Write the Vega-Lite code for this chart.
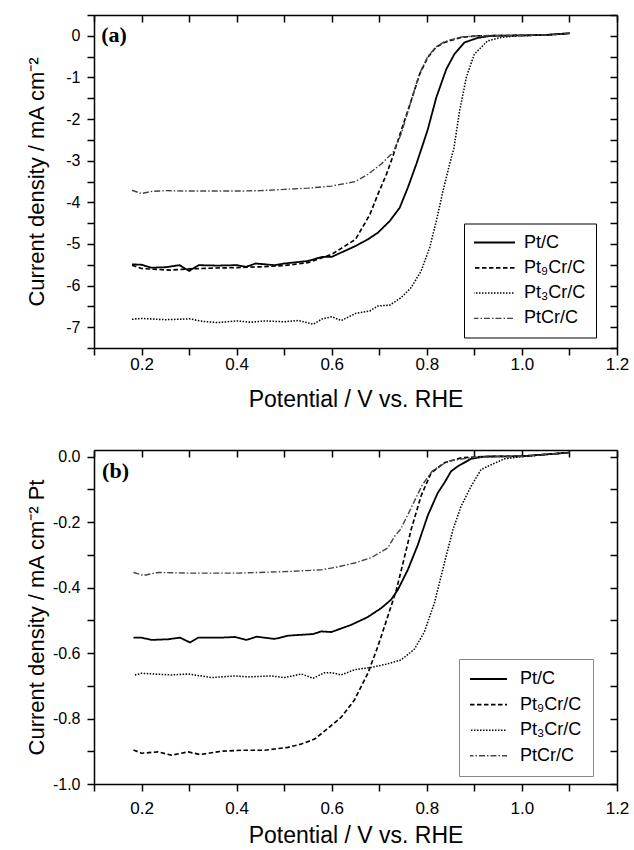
{
 "$schema": "https://vega.github.io/schema/vega-lite/v6.json",
 "padding": {"left": 25, "top": 7, "right": 0, "bottom": 0},
 "autosize": {"type": "pad"},
 "background": "white",
 "config": {
  "font": "Liberation Sans",
  "view": {"stroke": null},
  "axis": {"grid": false, "domainColor": "black", "domainWidth": 1.5, "tickColor": "black", "tickWidth": 1.5, "tickSize": 7, "labelColor": "black", "titleColor": "black", "labelFont": "Liberation Sans", "titleFont": "Liberation Sans", "titleFontWeight": "normal", "labelOverlap": false, "labelFlush": false}
 },
 "datasets": {
  "curves": [
   {"p":"a","s":"Pt/C","V":0.18,"J":-5.49},{"p":"a","s":"Pt/C","V":0.2,"J":-5.5},{"p":"a","s":"Pt/C","V":0.22,"J":-5.57},{"p":"a","s":"Pt/C","V":0.25,"J":-5.56},{"p":"a","s":"Pt/C","V":0.28,"J":-5.51},{"p":"a","s":"Pt/C","V":0.3,"J":-5.65},{"p":"a","s":"Pt/C","V":0.32,"J":-5.51},{"p":"a","s":"Pt/C","V":0.36,"J":-5.52},{"p":"a","s":"Pt/C","V":0.4,"J":-5.51},{"p":"a","s":"Pt/C","V":0.42,"J":-5.55},{"p":"a","s":"Pt/C","V":0.44,"J":-5.47},{"p":"a","s":"Pt/C","V":0.48,"J":-5.51},{"p":"a","s":"Pt/C","V":0.5,"J":-5.47},{"p":"a","s":"Pt/C","V":0.55,"J":-5.41},{"p":"a","s":"Pt/C","V":0.58,"J":-5.31},{"p":"a","s":"Pt/C","V":0.6,"J":-5.31},{"p":"a","s":"Pt/C","V":0.65,"J":-5.05},{"p":"a","s":"Pt/C","V":0.676,"J":-4.89},{"p":"a","s":"Pt/C","V":0.697,"J":-4.73},{"p":"a","s":"Pt/C","V":0.722,"J":-4.45},{"p":"a","s":"Pt/C","V":0.743,"J":-4.13},{"p":"a","s":"Pt/C","V":0.76,"J":-3.65},{"p":"a","s":"Pt/C","V":0.778,"J":-3.08},{"p":"a","s":"Pt/C","V":0.792,"J":-2.6},{"p":"a","s":"Pt/C","V":0.802,"J":-2.25},{"p":"a","s":"Pt/C","V":0.82,"J":-1.48},{"p":"a","s":"Pt/C","V":0.841,"J":-0.8},{"p":"a","s":"Pt/C","V":0.858,"J":-0.44},{"p":"a","s":"Pt/C","V":0.879,"J":-0.16},{"p":"a","s":"Pt/C","V":0.907,"J":-0.05},{"p":"a","s":"Pt/C","V":0.935,"J":0},{"p":"a","s":"Pt/C","V":1.0,"J":0.01},{"p":"a","s":"Pt/C","V":1.05,"J":0.02},{"p":"a","s":"Pt/C","V":1.1,"J":0.06},
   {"p":"a","s":"Pt₉Cr/C","V":0.18,"J":-5.51},{"p":"a","s":"Pt₉Cr/C","V":0.2,"J":-5.59},{"p":"a","s":"Pt₉Cr/C","V":0.26,"J":-5.63},{"p":"a","s":"Pt₉Cr/C","V":0.3,"J":-5.6},{"p":"a","s":"Pt₉Cr/C","V":0.35,"J":-5.58},{"p":"a","s":"Pt₉Cr/C","V":0.4,"J":-5.57},{"p":"a","s":"Pt₉Cr/C","V":0.45,"J":-5.55},{"p":"a","s":"Pt₉Cr/C","V":0.5,"J":-5.52},{"p":"a","s":"Pt₉Cr/C","V":0.55,"J":-5.45},{"p":"a","s":"Pt₉Cr/C","V":0.6,"J":-5.25},{"p":"a","s":"Pt₉Cr/C","V":0.65,"J":-4.89},{"p":"a","s":"Pt₉Cr/C","V":0.68,"J":-4.3},{"p":"a","s":"Pt₉Cr/C","V":0.697,"J":-3.81},{"p":"a","s":"Pt₉Cr/C","V":0.715,"J":-3.33},{"p":"a","s":"Pt₉Cr/C","V":0.729,"J":-2.88},{"p":"a","s":"Pt₉Cr/C","V":0.746,"J":-2.28},{"p":"a","s":"Pt₉Cr/C","V":0.767,"J":-1.56},{"p":"a","s":"Pt₉Cr/C","V":0.785,"J":-0.92},{"p":"a","s":"Pt₉Cr/C","V":0.802,"J":-0.52},{"p":"a","s":"Pt₉Cr/C","V":0.819,"J":-0.28},{"p":"a","s":"Pt₉Cr/C","V":0.837,"J":-0.16},{"p":"a","s":"Pt₉Cr/C","V":0.872,"J":-0.04},{"p":"a","s":"Pt₉Cr/C","V":0.907,"J":0},{"p":"a","s":"Pt₉Cr/C","V":1.0,"J":0.01},{"p":"a","s":"Pt₉Cr/C","V":1.05,"J":0.02},{"p":"a","s":"Pt₉Cr/C","V":1.1,"J":0.06},
   {"p":"a","s":"Pt₃Cr/C","V":0.18,"J":-6.81},{"p":"a","s":"Pt₃Cr/C","V":0.2,"J":-6.79},{"p":"a","s":"Pt₃Cr/C","V":0.25,"J":-6.82},{"p":"a","s":"Pt₃Cr/C","V":0.3,"J":-6.8},{"p":"a","s":"Pt₃Cr/C","V":0.33,"J":-6.86},{"p":"a","s":"Pt₃Cr/C","V":0.36,"J":-6.89},{"p":"a","s":"Pt₃Cr/C","V":0.4,"J":-6.85},{"p":"a","s":"Pt₃Cr/C","V":0.43,"J":-6.88},{"p":"a","s":"Pt₃Cr/C","V":0.46,"J":-6.85},{"p":"a","s":"Pt₃Cr/C","V":0.5,"J":-6.87},{"p":"a","s":"Pt₃Cr/C","V":0.53,"J":-6.84},{"p":"a","s":"Pt₃Cr/C","V":0.561,"J":-6.93},{"p":"a","s":"Pt₃Cr/C","V":0.58,"J":-6.8},{"p":"a","s":"Pt₃Cr/C","V":0.6,"J":-6.75},{"p":"a","s":"Pt₃Cr/C","V":0.62,"J":-6.84},{"p":"a","s":"Pt₃Cr/C","V":0.65,"J":-6.67},{"p":"a","s":"Pt₃Cr/C","V":0.68,"J":-6.61},{"p":"a","s":"Pt₃Cr/C","V":0.697,"J":-6.49},{"p":"a","s":"Pt₃Cr/C","V":0.722,"J":-6.47},{"p":"a","s":"Pt₃Cr/C","V":0.746,"J":-6.29},{"p":"a","s":"Pt₃Cr/C","V":0.767,"J":-6.05},{"p":"a","s":"Pt₃Cr/C","V":0.788,"J":-5.65},{"p":"a","s":"Pt₃Cr/C","V":0.806,"J":-5.09},{"p":"a","s":"Pt₃Cr/C","V":0.82,"J":-4.45},{"p":"a","s":"Pt₃Cr/C","V":0.834,"J":-3.73},{"p":"a","s":"Pt₃Cr/C","V":0.848,"J":-3.08},{"p":"a","s":"Pt₃Cr/C","V":0.857,"J":-2.7},{"p":"a","s":"Pt₃Cr/C","V":0.869,"J":-1.8},{"p":"a","s":"Pt₃Cr/C","V":0.883,"J":-1.0},{"p":"a","s":"Pt₃Cr/C","V":0.9,"J":-0.44},{"p":"a","s":"Pt₃Cr/C","V":0.928,"J":-0.12},{"p":"a","s":"Pt₃Cr/C","V":0.956,"J":-0.04},{"p":"a","s":"Pt₃Cr/C","V":0.99,"J":0},{"p":"a","s":"Pt₃Cr/C","V":1.05,"J":0.02},{"p":"a","s":"Pt₃Cr/C","V":1.1,"J":0.06},
   {"p":"a","s":"PtCr/C","V":0.18,"J":-3.71},{"p":"a","s":"PtCr/C","V":0.2,"J":-3.79},{"p":"a","s":"PtCr/C","V":0.22,"J":-3.74},{"p":"a","s":"PtCr/C","V":0.25,"J":-3.72},{"p":"a","s":"PtCr/C","V":0.3,"J":-3.73},{"p":"a","s":"PtCr/C","V":0.35,"J":-3.73},{"p":"a","s":"PtCr/C","V":0.4,"J":-3.73},{"p":"a","s":"PtCr/C","V":0.45,"J":-3.72},{"p":"a","s":"PtCr/C","V":0.5,"J":-3.69},{"p":"a","s":"PtCr/C","V":0.55,"J":-3.66},{"p":"a","s":"PtCr/C","V":0.6,"J":-3.61},{"p":"a","s":"PtCr/C","V":0.65,"J":-3.5},{"p":"a","s":"PtCr/C","V":0.676,"J":-3.33},{"p":"a","s":"PtCr/C","V":0.704,"J":-3.08},{"p":"a","s":"PtCr/C","V":0.729,"J":-2.8},{"p":"a","s":"PtCr/C","V":0.746,"J":-2.36},{"p":"a","s":"PtCr/C","V":0.767,"J":-1.56},{"p":"a","s":"PtCr/C","V":0.785,"J":-0.9},{"p":"a","s":"PtCr/C","V":0.802,"J":-0.5},{"p":"a","s":"PtCr/C","V":0.819,"J":-0.27},{"p":"a","s":"PtCr/C","V":0.837,"J":-0.14},{"p":"a","s":"PtCr/C","V":0.872,"J":-0.03},{"p":"a","s":"PtCr/C","V":0.907,"J":0},{"p":"a","s":"PtCr/C","V":1.0,"J":0.01},{"p":"a","s":"PtCr/C","V":1.05,"J":0.02},{"p":"a","s":"PtCr/C","V":1.1,"J":0.06},
   {"p":"b","s":"Pt/C","V":0.183,"J":-0.553},{"p":"b","s":"Pt/C","V":0.2,"J":-0.553},{"p":"b","s":"Pt/C","V":0.221,"J":-0.56},{"p":"b","s":"Pt/C","V":0.256,"J":-0.558},{"p":"b","s":"Pt/C","V":0.281,"J":-0.553},{"p":"b","s":"Pt/C","V":0.302,"J":-0.568},{"p":"b","s":"Pt/C","V":0.319,"J":-0.553},{"p":"b","s":"Pt/C","V":0.368,"J":-0.553},{"p":"b","s":"Pt/C","V":0.396,"J":-0.551},{"p":"b","s":"Pt/C","V":0.421,"J":-0.56},{"p":"b","s":"Pt/C","V":0.442,"J":-0.55},{"p":"b","s":"Pt/C","V":0.48,"J":-0.557},{"p":"b","s":"Pt/C","V":0.508,"J":-0.547},{"p":"b","s":"Pt/C","V":0.561,"J":-0.542},{"p":"b","s":"Pt/C","V":0.578,"J":-0.534},{"p":"b","s":"Pt/C","V":0.599,"J":-0.536},{"p":"b","s":"Pt/C","V":0.641,"J":-0.514},{"p":"b","s":"Pt/C","V":0.676,"J":-0.49},{"p":"b","s":"Pt/C","V":0.704,"J":-0.463},{"p":"b","s":"Pt/C","V":0.725,"J":-0.437},{"p":"b","s":"Pt/C","V":0.739,"J":-0.407},{"p":"b","s":"Pt/C","V":0.76,"J":-0.346},{"p":"b","s":"Pt/C","V":0.781,"J":-0.27},{"p":"b","s":"Pt/C","V":0.802,"J":-0.18},{"p":"b","s":"Pt/C","V":0.823,"J":-0.111},{"p":"b","s":"Pt/C","V":0.837,"J":-0.08},{"p":"b","s":"Pt/C","V":0.851,"J":-0.045},{"p":"b","s":"Pt/C","V":0.865,"J":-0.03},{"p":"b","s":"Pt/C","V":0.893,"J":-0.007},{"p":"b","s":"Pt/C","V":0.921,"J":0},{"p":"b","s":"Pt/C","V":1.0,"J":0.001},{"p":"b","s":"Pt/C","V":1.1,"J":0.012},
   {"p":"b","s":"Pt₉Cr/C","V":0.183,"J":-0.896},{"p":"b","s":"Pt₉Cr/C","V":0.2,"J":-0.906},{"p":"b","s":"Pt₉Cr/C","V":0.235,"J":-0.902},{"p":"b","s":"Pt₉Cr/C","V":0.263,"J":-0.912},{"p":"b","s":"Pt₉Cr/C","V":0.298,"J":-0.902},{"p":"b","s":"Pt₉Cr/C","V":0.323,"J":-0.91},{"p":"b","s":"Pt₉Cr/C","V":0.368,"J":-0.9},{"p":"b","s":"Pt₉Cr/C","V":0.41,"J":-0.897},{"p":"b","s":"Pt₉Cr/C","V":0.459,"J":-0.897},{"p":"b","s":"Pt₉Cr/C","V":0.48,"J":-0.893},{"p":"b","s":"Pt₉Cr/C","V":0.508,"J":-0.888},{"p":"b","s":"Pt₉Cr/C","V":0.536,"J":-0.878},{"p":"b","s":"Pt₉Cr/C","V":0.564,"J":-0.863},{"p":"b","s":"Pt₉Cr/C","V":0.592,"J":-0.83},{"p":"b","s":"Pt₉Cr/C","V":0.62,"J":-0.796},{"p":"b","s":"Pt₉Cr/C","V":0.648,"J":-0.743},{"p":"b","s":"Pt₉Cr/C","V":0.676,"J":-0.662},{"p":"b","s":"Pt₉Cr/C","V":0.697,"J":-0.58},{"p":"b","s":"Pt₉Cr/C","V":0.718,"J":-0.488},{"p":"b","s":"Pt₉Cr/C","V":0.736,"J":-0.407},{"p":"b","s":"Pt₉Cr/C","V":0.75,"J":-0.325},{"p":"b","s":"Pt₉Cr/C","V":0.767,"J":-0.223},{"p":"b","s":"Pt₉Cr/C","V":0.788,"J":-0.12},{"p":"b","s":"Pt₉Cr/C","V":0.809,"J":-0.05},{"p":"b","s":"Pt₉Cr/C","V":0.837,"J":-0.019},{"p":"b","s":"Pt₉Cr/C","V":0.872,"J":-0.004},{"p":"b","s":"Pt₉Cr/C","V":0.92,"J":0},{"p":"b","s":"Pt₉Cr/C","V":1.0,"J":0.001},{"p":"b","s":"Pt₉Cr/C","V":1.1,"J":0.012},
   {"p":"b","s":"Pt₃Cr/C","V":0.186,"J":-0.667},{"p":"b","s":"Pt₃Cr/C","V":0.2,"J":-0.662},{"p":"b","s":"Pt₃Cr/C","V":0.263,"J":-0.667},{"p":"b","s":"Pt₃Cr/C","V":0.298,"J":-0.664},{"p":"b","s":"Pt₃Cr/C","V":0.347,"J":-0.675},{"p":"b","s":"Pt₃Cr/C","V":0.396,"J":-0.67},{"p":"b","s":"Pt₃Cr/C","V":0.424,"J":-0.673},{"p":"b","s":"Pt₃Cr/C","V":0.473,"J":-0.67},{"p":"b","s":"Pt₃Cr/C","V":0.501,"J":-0.675},{"p":"b","s":"Pt₃Cr/C","V":0.536,"J":-0.664},{"p":"b","s":"Pt₃Cr/C","V":0.561,"J":-0.677},{"p":"b","s":"Pt₃Cr/C","V":0.585,"J":-0.66},{"p":"b","s":"Pt₃Cr/C","V":0.6,"J":-0.66},{"p":"b","s":"Pt₃Cr/C","V":0.62,"J":-0.667},{"p":"b","s":"Pt₃Cr/C","V":0.648,"J":-0.651},{"p":"b","s":"Pt₃Cr/C","V":0.683,"J":-0.644},{"p":"b","s":"Pt₃Cr/C","V":0.718,"J":-0.633},{"p":"b","s":"Pt₃Cr/C","V":0.746,"J":-0.621},{"p":"b","s":"Pt₃Cr/C","V":0.774,"J":-0.588},{"p":"b","s":"Pt₃Cr/C","V":0.795,"J":-0.535},{"p":"b","s":"Pt₃Cr/C","V":0.816,"J":-0.447},{"p":"b","s":"Pt₃Cr/C","V":0.837,"J":-0.325},{"p":"b","s":"Pt₃Cr/C","V":0.855,"J":-0.223},{"p":"b","s":"Pt₃Cr/C","V":0.872,"J":-0.152},{"p":"b","s":"Pt₃Cr/C","V":0.893,"J":-0.091},{"p":"b","s":"Pt₃Cr/C","V":0.914,"J":-0.04},{"p":"b","s":"Pt₃Cr/C","V":0.928,"J":-0.03},{"p":"b","s":"Pt₃Cr/C","V":0.963,"J":-0.007},{"p":"b","s":"Pt₃Cr/C","V":1.0,"J":0},{"p":"b","s":"Pt₃Cr/C","V":1.1,"J":0.012},
   {"p":"b","s":"PtCr/C","V":0.183,"J":-0.354},{"p":"b","s":"PtCr/C","V":0.204,"J":-0.363},{"p":"b","s":"PtCr/C","V":0.235,"J":-0.354},{"p":"b","s":"PtCr/C","V":0.298,"J":-0.356},{"p":"b","s":"PtCr/C","V":0.403,"J":-0.356},{"p":"b","s":"PtCr/C","V":0.508,"J":-0.351},{"p":"b","s":"PtCr/C","V":0.578,"J":-0.346},{"p":"b","s":"PtCr/C","V":0.613,"J":-0.337},{"p":"b","s":"PtCr/C","V":0.648,"J":-0.325},{"p":"b","s":"PtCr/C","V":0.683,"J":-0.309},{"p":"b","s":"PtCr/C","V":0.718,"J":-0.279},{"p":"b","s":"PtCr/C","V":0.732,"J":-0.244},{"p":"b","s":"PtCr/C","V":0.745,"J":-0.222},{"p":"b","s":"PtCr/C","V":0.767,"J":-0.157},{"p":"b","s":"PtCr/C","V":0.79,"J":-0.088},{"p":"b","s":"PtCr/C","V":0.811,"J":-0.045},{"p":"b","s":"PtCr/C","V":0.844,"J":-0.014},{"p":"b","s":"PtCr/C","V":0.9,"J":-0.002},{"p":"b","s":"PtCr/C","V":1.0,"J":0.001},{"p":"b","s":"PtCr/C","V":1.1,"J":0.012}
  ]
 },
 "spacing": 37,
 "resolve": {"scale": {"color": "independent", "strokeDash": "independent", "strokeWidth": "independent"}},
 "vconcat": [
  {
   "width": 523, "height": 333,
   "layer": [
    {
     "data": {"name": "curves"},
     "transform": [{"filter": "datum.p == 'a'"}],
     "mark": {"type": "line"},
     "encoding": {
      "x": {"field": "V", "type": "quantitative", "scale": {"domain": [0.1, 1.2], "nice": false, "zero": false},
            "axis": {"orient": "bottom", "title": "Potential / V vs. RHE", "values": [0.1,0.2,0.3,0.4,0.5,0.6,0.7,0.8,0.9,1.0,1.1,1.2], "labelExpr": "round(datum.value*10) % 2 == 0 ? format(datum.value, '.1f') : ''", "labelFontSize": 17, "labelPadding": 1, "titleFontSize": 23, "titlePadding": 16}},
      "y": {"field": "J", "type": "quantitative", "scale": {"domain": [-7.5, 0.5], "nice": false, "zero": false},
            "axis": {"orient": "left", "title": "Current density / mA cm⁻²", "values": [-7.5,-7,-6.5,-6,-5.5,-5,-4.5,-4,-3.5,-3,-2.5,-2,-1.5,-1,-0.5,0,0.5], "labelExpr": "datum.value == round(datum.value) ? replace(format(datum.value, 'd'), '\u2212', '-') : ''", "labelFontSize": 16, "labelPadding": 7, "titleFontSize": 22, "titleX": -51, "titleBaseline": "alphabetic"}},
      "strokeDash": {"field": "s", "type": "nominal", "scale": {"domain": ["Pt/C", "Pt₉Cr/C", "Pt₃Cr/C", "PtCr/C"], "range": [[1, 0], [4.5, 2.5], [1.5, 1.5], [6, 2, 1.5, 2]]},
            "legend": {"title": null, "orient": "none", "legendX": 370, "legendY": 208.5, "symbolType": "stroke", "symbolSize": 2916, "clipHeight": 18, "labelFontSize": 18, "labelFont": "Liberation Sans", "labelColor": "black", "labelExpr": "datum.label + '   '", "padding": 10, "rowPadding": 7.3, "strokeColor": "black", "symbolOffset": -14, "labelOffset": 8}},
      "strokeWidth": {"field": "s", "type": "nominal", "scale": {"domain": ["Pt/C", "Pt₉Cr/C", "Pt₃Cr/C", "PtCr/C"], "range": [1.8, 1.4, 1.6, 0.9]},
            "legend": {"title": null, "orient": "none", "legendX": 370, "legendY": 208.5, "symbolType": "stroke", "symbolSize": 2916, "clipHeight": 18, "labelFontSize": 18, "labelFont": "Liberation Sans", "labelColor": "black", "labelExpr": "datum.label + '   '", "padding": 10, "rowPadding": 7.3, "strokeColor": "black", "symbolOffset": -14, "labelOffset": 8}},
      "color": {"field": "s", "type": "nominal", "scale": {"domain": ["Pt/C", "Pt₉Cr/C", "Pt₃Cr/C", "PtCr/C"], "range": ["black", "black", "black", "#444444"]},
            "legend": {"title": null, "orient": "none", "legendX": 370, "legendY": 208.5, "symbolType": "stroke", "symbolSize": 2916, "clipHeight": 18, "labelFontSize": 18, "labelFont": "Liberation Sans", "labelColor": "black", "labelExpr": "datum.label + '   '", "padding": 10, "rowPadding": 7.3, "strokeColor": "black", "symbolOffset": -14, "labelOffset": 8}}
     }
    },
    {
     "data": {"values": [{"V": 0.115, "J": 0.02, "label": "(a)"}]},
     "mark": {"type": "text", "font": "Liberation Serif", "fontWeight": "bold", "fontSize": 22, "align": "left", "baseline": "middle", "color": "black"},
     "encoding": {
      "x": {"field": "V", "type": "quantitative", "scale": {"domain": [0.1, 1.2], "nice": false, "zero": false},
            "axis": {"orient": "top", "title": null, "labels": false, "values": [0.1,0.2,0.3,0.4,0.5,0.6,0.7,0.8,0.9,1.0,1.1,1.2], "tickSize": -7}},
      "y": {"field": "J", "type": "quantitative", "scale": {"domain": [-7.5, 0.5], "nice": false, "zero": false},
            "axis": {"orient": "right", "title": null, "labels": false, "values": [-7.5,-7,-6.5,-6,-5.5,-5,-4.5,-4,-3.5,-3,-2.5,-2,-1.5,-1,-0.5,0,0.5], "tickSize": -7}},
      "text": {"field": "label"}
     }
    }
   ],
   "resolve": {"axis": {"x": "independent", "y": "independent"}}
  },
  {
   "width": 523, "height": 334,
   "layer": [
    {
     "data": {"name": "curves"},
     "transform": [{"filter": "datum.p == 'b'"}],
     "mark": {"type": "line"},
     "encoding": {
      "x": {"field": "V", "type": "quantitative", "scale": {"domain": [0.1, 1.2], "nice": false, "zero": false},
            "axis": {"orient": "bottom", "title": "Potential / V vs. RHE", "values": [0.1,0.2,0.3,0.4,0.5,0.6,0.7,0.8,0.9,1.0,1.1,1.2], "labelExpr": "round(datum.value*10) % 2 == 0 ? format(datum.value, '.1f') : ''", "labelFontSize": 17, "labelPadding": 9.5, "titleFontSize": 23, "titlePadding": 8}},
      "y": {"field": "J", "type": "quantitative", "scale": {"domain": [-1.0, 0.02], "nice": false, "zero": false},
            "axis": {"orient": "left", "title": "Current density / mA cm⁻² Pt", "values": [-1.0,-0.9,-0.8,-0.7,-0.6,-0.5,-0.4,-0.3,-0.2,-0.1,0], "labelExpr": "round(datum.value*10) % 2 == 0 ? replace(format(datum.value, '.1f'), '\u2212', '-') : ''", "labelFontSize": 16, "labelPadding": 7, "titleFontSize": 22, "titleX": -51, "titleBaseline": "alphabetic"}},
      "strokeDash": {"field": "s", "type": "nominal", "scale": {"domain": ["Pt/C", "Pt₉Cr/C", "Pt₃Cr/C", "PtCr/C"], "range": [[1, 0], [4.5, 2.5], [1.5, 1.5], [6, 2, 1.5, 2]]},
            "legend": {"title": null, "orient": "none", "legendX": 365, "legendY": 209, "symbolType": "stroke", "symbolSize": 2601, "clipHeight": 18, "labelFontSize": 18, "labelFont": "Liberation Sans", "labelColor": "black", "labelExpr": "datum.label + '     '", "padding": 11, "rowPadding": 7.6, "strokeColor": "#888888", "symbolOffset": -15, "labelOffset": 12}},
      "strokeWidth": {"field": "s", "type": "nominal", "scale": {"domain": ["Pt/C", "Pt₉Cr/C", "Pt₃Cr/C", "PtCr/C"], "range": [1.8, 1.4, 1.6, 0.9]},
            "legend": {"title": null, "orient": "none", "legendX": 365, "legendY": 209, "symbolType": "stroke", "symbolSize": 2601, "clipHeight": 18, "labelFontSize": 18, "labelFont": "Liberation Sans", "labelColor": "black", "labelExpr": "datum.label + '     '", "padding": 11, "rowPadding": 7.6, "strokeColor": "#888888", "symbolOffset": -15, "labelOffset": 12}},
      "color": {"field": "s", "type": "nominal", "scale": {"domain": ["Pt/C", "Pt₉Cr/C", "Pt₃Cr/C", "PtCr/C"], "range": ["black", "black", "black", "#444444"]},
            "legend": {"title": null, "orient": "none", "legendX": 365, "legendY": 209, "symbolType": "stroke", "symbolSize": 2601, "clipHeight": 18, "labelFontSize": 18, "labelFont": "Liberation Sans", "labelColor": "black", "labelExpr": "datum.label + '     '", "padding": 11, "rowPadding": 7.6, "strokeColor": "#888888", "symbolOffset": -15, "labelOffset": 12}}
     }
    },
    {
     "data": {"values": [{"V": 0.117, "J": -0.043, "label": "(b)"}]},
     "mark": {"type": "text", "font": "Liberation Serif", "fontWeight": "bold", "fontSize": 22, "align": "left", "baseline": "middle", "color": "black"},
     "encoding": {
      "x": {"field": "V", "type": "quantitative", "scale": {"domain": [0.1, 1.2], "nice": false, "zero": false},
            "axis": {"orient": "top", "title": null, "labels": false, "values": [0.1,0.2,0.3,0.4,0.5,0.6,0.7,0.8,0.9,1.0,1.1,1.2], "tickSize": -7}},
      "y": {"field": "J", "type": "quantitative", "scale": {"domain": [-1.0, 0.02], "nice": false, "zero": false},
            "axis": {"orient": "right", "title": null, "labels": false, "values": [-1.0,-0.9,-0.8,-0.7,-0.6,-0.5,-0.4,-0.3,-0.2,-0.1,0], "tickSize": -7}},
      "text": {"field": "label"}
     }
    }
   ],
   "resolve": {"axis": {"x": "independent", "y": "independent"}}
  }
 ]
}
